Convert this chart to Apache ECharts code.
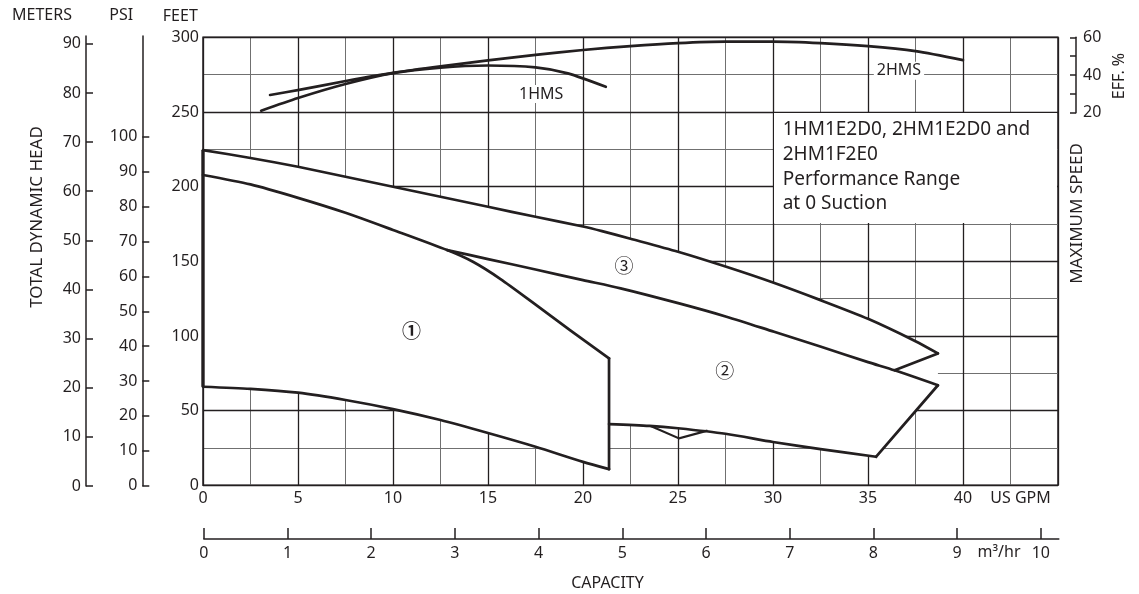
<!DOCTYPE html>
<html><head><meta charset="utf-8">
<script src="https://cdn.jsdelivr.net/npm/echarts@6/dist/echarts.min.js"></script>
<style>html,body{margin:0;padding:0;background:#fff}#c{width:1139px;height:594px}</style>
</head><body><div id="c"></div>
<script>
const FONT = '"Noto Sans", "DejaVu Sans", sans-serif';
const CJK = '"Noto Sans CJK JP", "Noto Sans", sans-serif';
const INK = '#231f20';
const MINOR = '#707070';

// ---- tick labels ----
const gpmLabels = [0, 5, 10, 15, 20, 25, 30, 35, 40];
const meterTicks = [0, 10, 20, 30, 40, 50, 60, 70, 80, 90];
const psiTicks = [0, 10, 20, 30, 40, 50, 60, 70, 80, 90, 100];
const effTicks = [20, 30, 40, 50, 60];
const effLabels = [20, 40, 60];
const m3Ticks = [0, 1, 2, 3, 4, 5, 6, 7, 8, 9, 10];

// ---- performance range curves: [US GPM, feet] ----
const topBoundary = [[0,224.5],[2.5,219.2],[5,213.3],[7.5,206.6],[10,199.9],[12.5,193.2],[15,186.5],[17.5,179.8],[20,173.3],[21,170.2],[22.5,165.1],[25,156.4],[27.5,146.5],[30,135.8],[32.5,124.0],[35,111.5],[37.5,96.5],[38.68,88.3]];
const region1Top = [[0,207.8],[2.5,201.5],[5,192.5],[7.5,182.5],[10,171],[12.85,157.5],[14.23,149.5],[15.66,138.1],[17.4,122],[19.35,103.6],[21.37,85]];
const region1Bottom = [[0,66],[2.5,64.6],[5,62],[7.5,57.1],[10,51],[12.5,43.7],[15,35],[17.5,25.8],[20,15.7],[21.37,10.8]];
const region1Right = [[21.37,85],[21.37,10.8]];
const middleLine = [[12.85,157.5],[15,151.5],[17.5,144.5],[20,137.4],[21.98,131.9],[25.06,121.8],[27.55,112.9],[30.06,102.8],[32.53,92.8],[35,82.5],[36.4,77],[38.68,67]];
const region3Return = [[38.68,88.3],[36.4,77]];
const region2Right = [[38.68,67],[35.42,19.1]];
const region2Bottom = [[21.37,41],[23.5,39.8],[25,38.2],[27.5,34.5],[30,29],[32.5,24.2],[35.42,19.1]];
const notch = [[23.56,39.7],[25.06,31.4],[26.55,36.6]];
const leftEdge = [[0,66],[0,224.5]];

// ---- efficiency curves: [US GPM, EFF %] ----
const eff1HMS = [[3.06,20.7],[5,27.5],[7.5,35],[10,40.8],[12.5,43.8],[15,44.9],[17.5,43.9],[19.2,40.7],[21.2,33.5]];
const eff2HMS = [[3.53,29.1],[5.06,31.8],[7.58,36.7],[10.07,41.1],[12.5,44.5],[15,47.6],[17.5,50.6],[20,53.2],[22.5,55.3],[25,56.9],[27.5,57.7],[30,57.7],[32.5,56.9],[35,55.3],[37.5,52.6],[40,47.8]];

// ---- annotations ----
const regionNames = ['①', '②', '③'];
const regionPos = [[10.98,103.5],[27.46,76.7],[22.16,147]];
const effNames = ['1HMS', '2HMS'];
const effNamePos = [[17.8,29.6],[36.63,42.1]];
const boxGpm = [30, 45];
const boxFeet = [175, 250];
const boxText = '1HM1E2D0, 2HM1E2D0 and\n2HM1F2E0\nPerformance Range\nat 0 Suction';

// union outline of the white performance area
const unionPoly = [].concat(
  topBoundary,
  [region2Right[0]],
  region2Right.slice(1),
  region2Bottom.slice().reverse().slice(1),
  [region1Right[1]],
  region1Bottom.slice().reverse().slice(1)
);

const txt = {color: INK, fontFamily: FONT, fontSize: 16};

function curve(data, extra) {
  return Object.assign({
    type: 'line', xAxisIndex: 1, yAxisIndex: 1, data: data, symbol: 'none',
    smooth: 0.25, silent: true, z: 5,
    lineStyle: {color: INK, width: 2.7, cap: 'round', join: 'round'}
  }, extra || {});
}

const chart = echarts.init(document.getElementById('c'), null, {renderer: 'canvas'});
chart.setOption({
  animation: false,
  backgroundColor: '#fff',
  grid: [
    {left: 203, top: 37.3, width: 855, height: 448, show: true, borderColor: INK, borderWidth: 1.5, backgroundColor: 'transparent'},
    {left: 86, top: 36, width: 1, height: 450},
    {left: 142.3, top: 36, width: 1, height: 449.7},
    {left: 1076, top: 37.3, width: 1, height: 75.4},
    {left: 203.8, top: 538, width: 855, height: 1}
  ],
  xAxis: [
    {gridIndex: 0, type: 'value', min: 0, max: 45, interval: 2.5, z: 1, position: 'bottom',
     axisLine: {show: false}, axisTick: {show: false}, axisLabel: {show: false},
     splitLine: {show: true, lineStyle: {color: MINOR, width: 1}}},
    {gridIndex: 0, type: 'value', min: 0, max: 45, interval: 5, z: 2, position: 'bottom',
     axisLine: {show: false}, axisTick: {show: false},
     axisLabel: Object.assign({show: true, margin: 5, customValues: gpmLabels}, txt),
     splitLine: {show: true, lineStyle: {color: INK, width: 1.3}}},
    {gridIndex: 1, type: 'value', show: false},
    {gridIndex: 2, type: 'value', show: false},
    {gridIndex: 3, type: 'value', show: false},
    {gridIndex: 4, type: 'value', min: 0, max: 10.215, position: 'bottom',
     axisLine: {show: true, lineStyle: {color: INK, width: 1.5}},
     axisTick: {show: true, inside: true, length: 11, customValues: m3Ticks, lineStyle: {color: INK, width: 1.5}},
     axisLabel: Object.assign({show: true, margin: 6, customValues: m3Ticks}, txt),
     splitLine: {show: false}}
  ],
  yAxis: [
    {gridIndex: 0, type: 'value', min: 0, max: 300, interval: 25, z: 1, position: 'left',
     axisLine: {show: false}, axisTick: {show: false}, axisLabel: {show: false},
     splitLine: {show: true, lineStyle: {color: MINOR, width: 1}}},
    {gridIndex: 0, type: 'value', min: 0, max: 300, interval: 50, z: 2, position: 'left',
     axisLine: {show: false}, axisTick: {show: false},
     axisLabel: Object.assign({show: true, margin: 4}, txt),
     splitLine: {show: true, lineStyle: {color: INK, width: 1.3}}},
    {gridIndex: 0, type: 'value', min: -180, max: 60, show: false, position: 'right'},
    {gridIndex: 1, type: 'value', min: 0, max: 91.6, position: 'left',
     axisLine: {show: true, lineStyle: {color: INK, width: 1.5}},
     axisTick: {show: true, inside: true, length: 7, customValues: meterTicks, lineStyle: {color: INK, width: 1.5}},
     axisLabel: Object.assign({show: true, margin: 5, customValues: meterTicks}, txt),
     splitLine: {show: false}},
    {gridIndex: 2, type: 'value', min: 0, max: 128.9, position: 'left',
     axisLine: {show: true, lineStyle: {color: INK, width: 1.5}},
     axisTick: {show: true, inside: true, length: 7, customValues: psiTicks, lineStyle: {color: INK, width: 1.5}},
     axisLabel: Object.assign({show: true, margin: 5, customValues: psiTicks}, txt),
     splitLine: {show: false}},
    {gridIndex: 3, type: 'value', min: 20, max: 60, position: 'right',
     axisLine: {show: true, lineStyle: {color: INK, width: 1.5}},
     axisTick: {show: true, inside: true, length: 6, customValues: effTicks, lineStyle: {color: INK, width: 1.5}},
     axisLabel: Object.assign({show: true, margin: 6, customValues: effLabels}, txt),
     splitLine: {show: false}},
    {gridIndex: 4, type: 'value', show: false}
  ],
  series: [
    {type: 'custom', xAxisIndex: 1, yAxisIndex: 1, z: 3, silent: true, data: [[0, 0]],
     renderItem: function (params, api) {
       return {type: 'polygon', shape: {points: unionPoly.map(function (p) { return api.coord(p); })},
               style: {fill: '#fff', stroke: null}};
     }},
    {type: 'custom', xAxisIndex: 1, yAxisIndex: 1, z: 3, silent: true, data: [[0, 0]],
     renderItem: function (params, api) {
       const a = api.coord([boxGpm[0], boxFeet[1]]);
       const b = api.coord([boxGpm[1], boxFeet[0]]);
       return {type: 'rect', shape: {x: a[0] + 1, y: a[1] + 1, width: b[0] - a[0] - 2, height: b[1] - a[1] - 2},
               style: {fill: '#fff'}};
     }},
    curve(topBoundary),
    curve(region1Top),
    curve(region1Bottom),
    curve(region1Right, {smooth: false}),
    curve(middleLine),
    curve(region3Return, {smooth: false}),
    curve(region2Right, {smooth: false}),
    curve(region2Bottom),
    curve(notch, {smooth: false, lineStyle: {color: INK, width: 2.2, join: 'miter'}}),
    curve(leftEdge, {smooth: false, lineStyle: {color: INK, width: 3.4}}),
    curve(eff1HMS, {yAxisIndex: 2}),
    curve(eff2HMS, {yAxisIndex: 2}),
    {type: 'scatter', xAxisIndex: 1, yAxisIndex: 1, z: 7, silent: true, symbolSize: 0,
     itemStyle: {color: INK, opacity: 1},
     data: regionNames.map(function (n, i) {
       return {name: n, value: regionPos[i], label: {fontWeight: i === 0 ? 'bold' : 'normal'}};
     }),
     label: {show: true, position: 'inside', formatter: function (p) { return p.name; },
             color: INK, opacity: 1, textBorderWidth: 0, fontFamily: CJK, fontSize: 19}},
    {type: 'scatter', xAxisIndex: 1, yAxisIndex: 2, z: 7, silent: true, symbolSize: 0,
     itemStyle: {color: INK, opacity: 1},
     data: effNames.map(function (n, i) { return {name: n, value: effNamePos[i]}; }),
     label: {show: true, position: 'inside', formatter: function (p) { return p.name; },
             color: INK, opacity: 1, textBorderWidth: 0, fontFamily: FONT, fontSize: 16,
             backgroundColor: '#fff', padding: [1, 3]}}
  ],
  graphic: [
    {type: 'text', x: 42, y: 15, style: {text: 'METERS', align: 'center', verticalAlign: 'middle', fill: INK, font: '16px ' + FONT}},
    {type: 'text', x: 121.3, y: 15, style: {text: 'PSI', align: 'center', verticalAlign: 'middle', fill: INK, font: '16px ' + FONT}},
    {type: 'text', x: 180.3, y: 16, style: {text: 'FEET', align: 'center', verticalAlign: 'middle', fill: INK, font: '16px ' + FONT}},
    {type: 'text', x: 37.5, y: 217, rotation: Math.PI / 2, style: {text: 'TOTAL DYNAMIC HEAD', align: 'center', verticalAlign: 'middle', fill: INK, font: '17px ' + FONT}},
    {type: 'text', x: 1076.7, y: 213.5, rotation: Math.PI / 2, style: {text: 'MAXIMUM SPEED', align: 'center', verticalAlign: 'middle', fill: INK, font: '17px ' + FONT}},
    {type: 'text', x: 1119, y: 76, rotation: Math.PI / 2, style: {text: 'EFF. %', align: 'center', verticalAlign: 'middle', fill: INK, font: '16px ' + FONT}},
    {type: 'text', x: 1020.5, y: 498.7, style: {text: 'US GPM', align: 'center', verticalAlign: 'middle', fill: INK, font: '16px ' + FONT}},
    {type: 'text', x: 999, y: 552, style: {text: 'm³/hr', align: 'center', verticalAlign: 'middle', fill: INK, font: '16px ' + FONT}},
    {type: 'text', x: 607.5, y: 583, style: {text: 'CAPACITY', align: 'center', verticalAlign: 'middle', fill: INK, font: '16px ' + FONT}},
    {type: 'text', x: 782.7, y: 117.6, z: 10, style: {text: boxText, align: 'left', verticalAlign: 'top', fill: INK, font: '19px ' + FONT, lineHeight: 24.7}}
  ]
});
</script></body></html>
